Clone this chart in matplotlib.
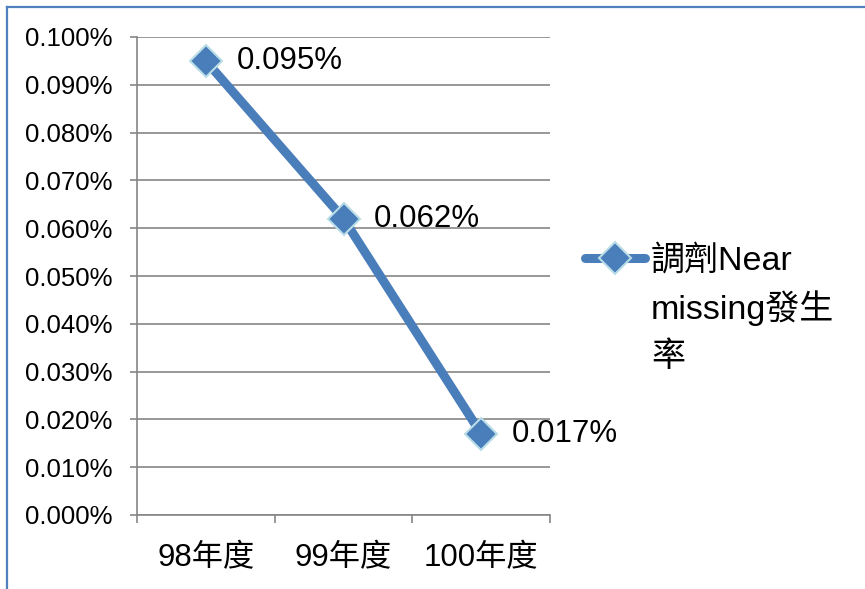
import matplotlib.pyplot as plt
from matplotlib.lines import Line2D
from matplotlib.ticker import FuncFormatter

plt.rcParams['font.family'] = ['Liberation Sans', 'Noto Sans CJK TC']

years = ['98年度', '99年度', '100年度']
rates = [0.095, 0.062, 0.017]  # percent
labels = ['0.095%', '0.062%', '0.017%']
series_name = ['調劑Near', 'missing發生', '率']

W, H = 865, 589
fig = plt.figure(figsize=(W / 100, H / 100), dpi=100)
ax = fig.add_axes([137 / W, 1 - 515 / H, (550 - 137) / W, (515 - 37) / H])

x = list(range(len(years)))
line, = ax.plot(x, rates, color='#4a7ebb', lw=6.5, solid_capstyle='round',
                marker='D', ms=16, mfc='#4a7ebb', mec='#b9dde6', mew=1.5,
                zorder=3)

for xi, yi, t in zip(x, rates, labels):
    ax.annotate(t, (xi, yi), xytext=(22, 0), textcoords='offset points',
                va='center', ha='left', fontsize=22.5)

ax.set_xlim(-0.5, 2.5)
ax.set_ylim(0, 0.1)
ax.set_yticks([i * 0.01 for i in range(11)])
ax.yaxis.set_major_formatter(FuncFormatter(lambda v, p: f'{v:.3f}%'))
ax.set_xticks(x)
ax.set_xticklabels(years)
ax.set_xticks([-0.5, 0.5, 1.5, 2.5], minor=True)
ax.tick_params(axis='x', which='major', length=0, pad=20, labelsize=22.5)
ax.tick_params(axis='x', which='minor', length=6, color='#868686', width=1.2)
ax.tick_params(axis='y', length=5, color='#868686', width=1.2, labelsize=18.5, pad=13)
ax.grid(axis='y', color='#868686', lw=1.2)
ax.set_axisbelow(True)
for s in ['top', 'right']:
    ax.spines[s].set_visible(False)
for s in ['left', 'bottom']:
    ax.spines[s].set_color('#868686')
    ax.spines[s].set_linewidth(1.2)

# legend: handle beside the first line of the wrapped series name
fig.legend(handles=[line], labels=[series_name[0]], loc='upper left',
           bbox_to_anchor=(585 / W, 1 - 245 / H), frameon=False,
           borderpad=0, borderaxespad=0, fontsize=24.5,
           handlelength=1.75, handletextpad=0.18)
fig.text(651 / W, 1 - 290 / H, '\n'.join(series_name[1:]), fontsize=24.5,
         va='top', ha='left', linespacing=1.65)

# chart border (only top and left fall inside the picture)
fig.add_artist(Line2D([6.5 / W, 1], [1 - 6.5 / H, 1 - 6.5 / H], color='#4f81bd', lw=1.6))
fig.add_artist(Line2D([6.5 / W, 6.5 / W], [0, 1 - 6.5 / H], color='#4f81bd', lw=1.6))

fig.savefig('out.png', dpi=100)
